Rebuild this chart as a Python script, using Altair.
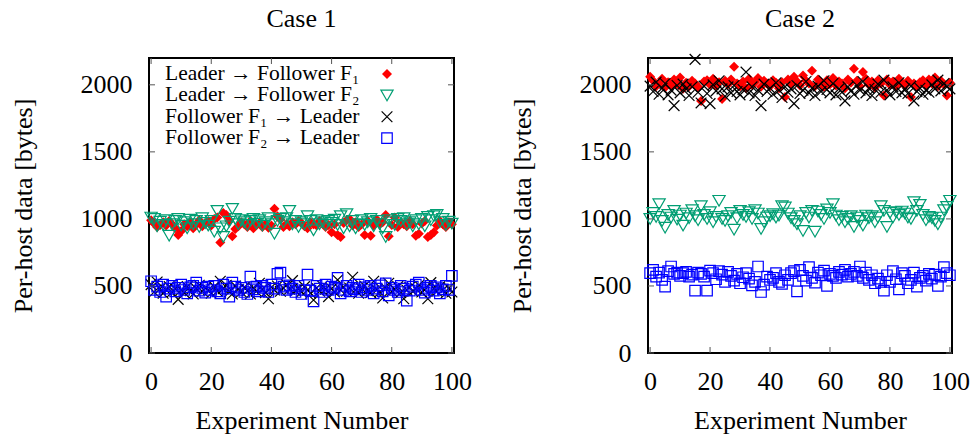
import altair as alt
import pandas as pd

experiments = list(range(101))

# Case 1
c1_lf1 = [990, 965, 940, 955, 975, 950, 985, 960, 930, 880, 910, 960, 945, 975, 930, 960, 990, 945, 965, 985,
          950, 1000, 1010, 825, 1045, 1030, 985, 870, 925, 945, 975, 960, 940, 985, 930, 955, 970, 940, 960, 935,
          950, 1075, 1020, 995, 940, 960, 945, 975, 960, 985, 970, 945, 930, 975, 960, 950, 985, 965, 940, 955,
          900, 960, 880, 865, 970, 990, 1000, 950, 975, 940, 960, 880, 985, 875, 950, 995, 960, 975, 1030, 870,
          955, 1010, 940, 975, 960, 945, 985, 960, 875, 890, 965, 985, 865, 880, 900, 950, 985, 960, 940, 975, 960]
c1_lf2 = [1010, 1000, 945, 980, 955, 990, 875, 960, 985, 1000, 950, 975, 930, 995, 960, 985, 940, 1005, 970, 950,
          985, 905, 1060, 930, 865, 945, 980, 1075, 1000, 960, 990, 975, 955, 985, 1000, 965, 990, 950, 975, 1005,
          960, 890, 985, 1000, 975, 1005, 1060, 960, 985, 940, 975, 960, 1020, 985, 915, 990, 960, 975, 955, 985,
          970, 995, 955, 1020, 930, 1035, 945, 985, 930, 960, 990, 955, 975, 1000, 945, 985, 960, 930, 865, 990,
          975, 955, 1000, 985, 1005, 960, 975, 945, 990, 960, 1000, 945, 1015, 990, 1020, 1030, 975, 1000, 955, 980, 965]
c1_f1l = [510, 455, 530, 480, 445, 470, 495, 455, 480, 400, 470, 450, 495, 465, 440, 480, 505, 460, 485, 470,
          445, 495, 460, 535, 480, 505, 455, 440, 500, 475, 455, 490, 465, 440, 485, 460, 520, 475, 450, 405,
          490, 470, 500, 460, 485, 510, 475, 540, 465, 480, 455, 495, 470, 445, 395, 485, 460, 500, 475, 420,
          480, 455, 545, 470, 490, 460, 485, 565, 470, 445, 480, 500, 465, 450, 535, 470, 455, 410, 485, 520,
          460, 475, 495, 450, 405, 470, 490, 460, 480, 505, 455, 470, 405, 525, 480, 460, 495, 470, 445, 485, 455]
c1_f2l = [535, 470, 495, 455, 510, 420, 480, 500, 460, 485, 510, 470, 445, 490, 500, 525, 465, 485, 450, 495,
          470, 500, 460, 445, 510, 480, 420, 525, 495, 470, 485, 455, 440, 570, 475, 495, 460, 500, 485, 455,
          510, 480, 590, 600, 495, 470, 505, 480, 455, 500, 440, 470, 585, 465, 385, 500, 480, 455, 510, 470,
          495, 485, 560, 445, 470, 500, 460, 485, 475, 510, 455, 490, 470, 500, 445, 480, 505, 460, 520, 430,
          485, 470, 455, 500, 480, 390, 465, 495, 510, 525, 470, 450, 485, 500, 465, 490, 445, 475, 500, 470, 575]

# Case 2
c2_lf1 = [2060, 2030, 1990, 2010, 2045, 1980, 2020, 1995, 2040, 2005, 2055, 1970, 2015, 1990, 2030, 2010, 1985, 1880, 2025, 2035,
          2000, 2045, 1995, 2020, 1895, 2030, 2005, 2040, 2135, 2010, 1990, 2025, 1975, 2045, 2000, 2020, 2050, 1985, 2030, 2010,
          1990, 2035, 2015, 1975, 2020, 1910, 2040, 2005, 2060, 2025, 1995, 2070, 2030, 2010, 2105, 1990, 2040, 2020, 1985, 2035,
          2005, 2050, 1995, 2025, 2010, 1975, 2040, 2015, 2120, 2030, 1990, 2095, 2045, 2000, 2025, 1980, 2035, 2010, 1920, 2040,
          2000, 2025, 1990, 2045, 2015, 1995, 2030, 1910, 2010, 1985, 2020, 2035, 1995, 2040, 2010, 2055, 1990, 2030, 2005, 1920, 2015]
c2_lf2 = [1000, 1045, 1015, 1110, 985, 935, 1030, 1010, 1060, 995, 1025, 950, 1040, 1005, 1065, 1020, 990, 1095, 1030, 1000,
          1050, 975, 1015, 1135, 1000, 985, 1020, 1045, 920, 1005, 1060, 1030, 1015, 1050, 1000, 1065, 1040, 925, 975, 1010,
          1020, 1035, 1010, 1025, 1095, 1085, 1040, 1005, 985, 960, 1020, 910, 1045, 1010, 1060, 905, 1055, 1030, 1000, 1070,
          1045, 1110, 1025, 990, 1015, 975, 1000, 1020, 940, 1010, 985, 950, 1025, 1005, 1020, 975, 1010, 1095, 1060, 940,
          1045, 1010, 1050, 1030, 1055, 1040, 1010, 1000, 1125, 1060, 1105, 1030, 990, 1015, 1005, 985, 960, 1010, 1065, 1090, 1135]
c2_f1l = [1990, 1950, 2020, 1930, 1975, 2010, 1925, 1960, 1845, 1995, 1940, 2005, 1970, 1920, 1985, 2190, 1945, 1865, 1990, 1935,
          1860, 2000, 1955, 2030, 1970, 1915, 1985, 1940, 1995, 1950, 1925, 1965, 2095, 1940, 1985, 1920, 1960, 1845, 2005, 1950,
          1975, 1930, 2015, 1960, 1905, 1985, 1945, 1970, 1860, 1995, 1935, 1960, 2025, 1940, 1975, 1920, 1990, 1950, 2030, 1965,
          1940, 2010, 1925, 1970, 1945, 1880, 1985, 1955, 1930, 1995, 1960, 2025, 1940, 1975, 1920, 1965, 2005, 1945, 2035, 1960,
          1925, 1985, 1950, 2015, 1940, 1970, 1935, 1990, 1880, 1950, 1975, 1930, 1960, 1945, 2000, 1970, 2035, 1955, 2010, 1985, 1970]
c2_f2l = [595, 620, 570, 600, 545, 495, 610, 645, 590, 600, 575, 595, 605, 570, 585, 465, 600, 590, 570, 465,
          615, 595, 550, 610, 585, 530, 605, 575, 540, 590, 520, 565, 595, 555, 505, 530, 645, 455, 510, 570,
          545, 560, 595, 530, 515, 580, 545, 595, 610, 460, 620, 575, 540, 640, 560, 525, 600, 580, 615, 500,
          590, 575, 560, 605, 585, 620, 570, 590, 605, 575, 645, 560, 600, 545, 580, 520, 555, 530, 465, 580,
          530, 610, 550, 475, 595, 575, 520, 545, 600, 495, 560, 575, 540, 590, 555, 585, 500, 570, 640, 595, 580]

series_labels = ["Leader \u2192 Follower F\u2081", "Leader \u2192 Follower F\u2082",
                 "Follower F\u2081 \u2192 Leader", "Follower F\u2082 \u2192 Leader"]
panel_titles = ["Case 1", "Case 2"]
x_ticks = [0, 20, 40, 60, 80, 100]
y_ticks = [0, 500, 1000, 1500, 2000]

FONT = "Liberation Serif"
H = 295
XDOM = [-0.7, 100.7]
YDOM = [0, 2200]
CROSS = "M-1,-1L1,1M-1,1L1,-1"

styles = [
    dict(shape="diamond", filled=True, fill="#ff0000", color="#ff0000", size=100, strokeWidth=0),
    dict(shape="triangle-down", filled=False, color="#009e73", size=150, strokeWidth=1.2),
    dict(shape=CROSS, filled=False, color="#000000", size=115, strokeWidth=1.2),
    dict(shape="square", filled=False, color="#0000ff", size=110, strokeWidth=1.2),
]

xscale = alt.Scale(domain=XDOM, nice=False, zero=False)
yscale = alt.Scale(domain=YDOM, nice=False)
axis_font = dict(labelFont=FONT, labelFontSize=26, labelColor="black", titleFont=FONT, titleFontSize=26,
                 titleFontWeight="normal", titleColor="black")
xaxis = alt.Axis(values=x_ticks, title="Experiment Number", grid=False, domain=False, ticks=False,
                 tickSize=0, labelPadding=15, titleY=75, titleBaseline="alphabetic", labelFlush=False,
                 format="d", **axis_font)
yaxis = alt.Axis(values=y_ticks, title="Per-host data [bytes]", grid=False, domain=False, ticks=False,
                 tickSize=0, labelPadding=17, titleX=-118, titleY=H / 2, titleBaseline="alphabetic",
                 titleAlign="center", titleAngle=270, format="d", **axis_font)


def panel(title, series, width, legend):
    layers = []
    for vals, st in zip(series, styles):
        df = pd.DataFrame({"exp": experiments, "v": vals})
        layers.append(alt.Chart(df).mark_point(**st, opacity=1).encode(
            x=alt.X("exp:Q", scale=xscale, axis=xaxis),
            y=alt.Y("v:Q", scale=yscale, axis=yaxis)))
    xt = pd.DataFrame({"exp": x_ticks})
    yt = pd.DataFrame({"v": y_ticks})
    tick_col = "#555555"
    for y0, y1 in [(H, H - 6), (0, 6)]:
        layers.append(alt.Chart(xt).mark_rule(color=tick_col, strokeWidth=1).encode(
            x=alt.X("exp:Q", scale=xscale, axis=xaxis), y=alt.value(y0), y2=alt.value(y1)))
    for x0, x1 in [(0, 6), (width - 6, width)]:
        layers.append(alt.Chart(yt).mark_rule(color=tick_col, strokeWidth=1).encode(
            y=alt.Y("v:Q", scale=yscale, axis=yaxis), x=alt.value(x0), x2=alt.value(x1)))
    # panel title as text
    tdf = pd.DataFrame({"label": [title]})
    layers.append(alt.Chart(tdf).mark_text(align="center", baseline="alphabetic", font=FONT,
                                           fontSize=26, color="black").encode(
        x=alt.value(width / 2), y=alt.value(-31), text="label:N"))
    if legend:
        for i, (lab, st) in enumerate(zip(series_labels, styles)):
            ly = 16 + 21.4 * i
            ldf = pd.DataFrame({"label": [lab]})
            layers.append(alt.Chart(ldf).mark_text(align="left", baseline="middle", font=FONT,
                                                   fontSize=21.5, color="black").encode(
                x=alt.value(16), y=alt.value(ly), text="label:N"))
            layers.append(alt.Chart(ldf).mark_point(**st, opacity=1).encode(
                x=alt.value(238), y=alt.value(ly)))
    return alt.layer(*layers).properties(width=width, height=H)


left = panel(panel_titles[0], [c1_lf1, c1_lf2, c1_f1l, c1_f2l], 305, True)
right = panel(panel_titles[1], [c2_lf1, c2_lf2, c2_f1l, c2_f2l], 304, False)

chart = alt.hconcat(left, right, spacing=194, bounds="flush").properties(
    padding={"left": 9, "top": 5, "right": 0, "bottom": 0}
).configure_view(stroke="black", strokeWidth=2).configure_axis(**axis_font)

chart.save("out.html", embed_options={"renderer": "svg", "actions": False})
